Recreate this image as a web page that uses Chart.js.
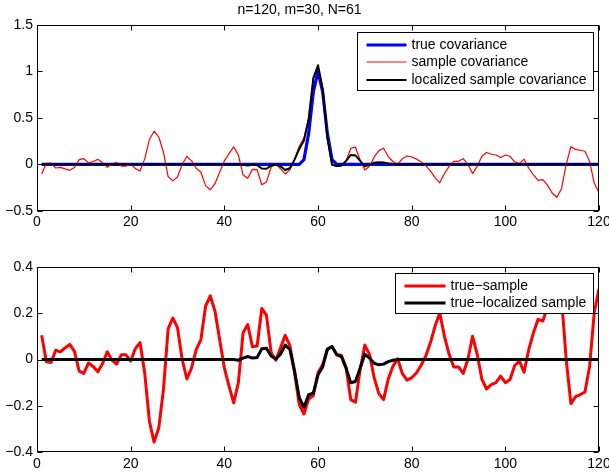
<!DOCTYPE html>
<html>
<head>
<meta charset="utf-8">
<script src="https://cdn.jsdelivr.net/npm/chart.js@4/dist/chart.umd.min.js"></script>
<style>
  html, body { margin: 0; padding: 0; background: #fff; }
  #wrap { position: relative; width: 609px; height: 476px; overflow: hidden; }
  canvas { position: absolute; left: 0; }
</style>
</head>
<body>
<div id="wrap">
  <canvas id="chartTop" width="609" height="240" style="top:0"></canvas>
  <canvas id="chartBot" width="609" height="236" style="top:240px"></canvas>
</div>
<script>
/* n=120 sample index */
var TITLE = 'n=120, m=30, N=61';
var X_TICKS = [0, 20, 40, 60, 80, 100, 120];

var TOP_LABELS = ['true covariance', 'sample covariance', 'localized sample covariance'];
var BOT_LABELS = ['true\u2212sample', 'true\u2212localized sample'];

var TRUE_COV = [
  0, 0, 0, 0, 0, 0, 0, 0, 0, 0,
  0, 0, 0, 0, 0, 0, 0, 0, 0, 0,
  0, 0, 0, 0, 0, 0, 0, 0, 0, 0,
  0, 0, 0, 0, 0, 0, 0, 0, 0, 0,
  0, 0, 0, 0, 0, 0, 0, 0, 0, 0,
  0, 0, 0, 0, 0, 0, 0.05, 0.33, 0.78, 1.0,
  0.78, 0.33, 0.05, 0, 0, 0, 0, 0, 0, 0,
  0, 0, 0, 0, 0, 0, 0, 0, 0, 0,
  0, 0, 0, 0, 0, 0, 0, 0, 0, 0,
  0, 0, 0, 0, 0, 0, 0, 0, 0, 0,
  0, 0, 0, 0, 0, 0, 0, 0, 0, 0,
  0, 0, 0, 0, 0, 0, 0, 0, 0, 0
];

var SAMPLE_COV = [
  -0.105, 0.01, 0.013, -0.04, -0.033, -0.05, -0.065, -0.035, 0.05, 0.06,
  0.015, 0.03, 0.053, 0.017, -0.033, 0.003, 0.02, -0.02, -0.02, 0.007,
  -0.047, -0.073, 0.058, 0.266, 0.356, 0.295, 0.13, -0.132, -0.179, -0.137,
  0, 0.084, 0.036, -0.043, -0.086, -0.23, -0.274, -0.209, -0.086, 0.036,
  0.115, 0.187, 0.1, -0.115, -0.151, -0.055, -0.058, -0.22, -0.19, -0.029,
  0.003, -0.05, -0.104, -0.06, 0.058, 0.194, 0.285, 0.5, 0.935, 1.058,
  0.802, 0.287, -0.005, -0.022, -0.017, 0.036, 0.173, 0.184, 0.043, -0.062,
  -0.022, 0.079, 0.147, 0.173, 0.084, 0.029, -0.003, 0.06, 0.089, 0.079,
  0.058, 0.026, -0.014, -0.072, -0.144, -0.2, -0.1, -0.022, 0.032, 0.032,
  0.06, 0, -0.1, -0.022, 0.086, 0.127, 0.108, 0.1, 0.072, 0.1,
  0.086, 0.026, 0.007, 0.055, -0.043, -0.115, -0.173, -0.166, -0.225, -0.31,
  -0.355, -0.263, 0, 0.19, 0.16, 0.151, 0.14, 0.029, -0.205, -0.305
];

var LOCAL_COV = [
  0, 0, 0, 0, 0, 0, 0, 0, 0, 0,
  0, 0, 0, 0, 0, 0, 0, 0, 0, 0,
  0, 0, 0, 0, 0, 0, 0, 0, 0, 0,
  0, 0, 0, 0, 0, 0, 0, 0, 0, 0,
  0, 0, 0.003, -0.006, -0.013, -0.006, -0.009, -0.046, -0.048, -0.015,
  -0.002, -0.023, -0.062, -0.043, 0.05, 0.165, 0.256, 0.482, 0.925, 1.066,
  0.812, 0.285, -0.006, -0.02, -0.013, 0.037, 0.1, 0.095, 0.037, -0.023,
  -0.006, 0.016, 0.023, 0.02, 0.009, 0.003, 0, 0, 0, 0,
  0, 0, 0, 0, 0, 0, 0, 0, 0, 0,
  0, 0, 0, 0, 0, 0, 0, 0, 0, 0,
  0, 0, 0, 0, 0, 0, 0, 0, 0, 0,
  0, 0, 0, 0, 0, 0, 0, 0, 0, 0
];

var DIFF_SAMPLE = [
  0.105, -0.01, -0.013, 0.04, 0.033, 0.05, 0.065, 0.035, -0.05, -0.06,
  -0.015, -0.03, -0.053, -0.017, 0.033, -0.003, -0.02, 0.02, 0.02, -0.007,
  0.047, 0.073, -0.058, -0.266, -0.356, -0.295, -0.13, 0.132, 0.179, 0.137,
  0, -0.084, -0.036, 0.043, 0.086, 0.23, 0.274, 0.209, 0.086, -0.036,
  -0.115, -0.187, -0.1, 0.115, 0.151, 0.055, 0.058, 0.22, 0.19, 0.029,
  -0.003, 0.05, 0.104, 0.06, -0.058, -0.194, -0.235, -0.17, -0.155, -0.058,
  -0.022, 0.043, 0.055, 0.022, 0.017, -0.036, -0.173, -0.184, -0.043, 0.062,
  0.022, -0.079, -0.147, -0.173, -0.084, -0.029, 0.003, -0.06, -0.089, -0.079,
  -0.058, -0.026, 0.014, 0.072, 0.144, 0.2, 0.1, 0.022, -0.032, -0.032,
  -0.06, 0, 0.1, 0.022, -0.086, -0.127, -0.108, -0.1, -0.072, -0.1,
  -0.086, -0.026, -0.007, -0.055, 0.043, 0.115, 0.173, 0.166, 0.225, 0.31,
  0.355, 0.263, 0, -0.19, -0.16, -0.151, -0.14, -0.029, 0.205, 0.305
];

var DIFF_LOCAL = [
  0, 0, 0, 0, 0, 0, 0, 0, 0, 0,
  0, 0, 0, 0, 0, 0, 0, 0, 0, 0,
  0, 0, 0, 0, 0, 0, 0, 0, 0, 0,
  0, 0, 0, 0, 0, 0, 0, 0, 0, 0,
  0, 0, -0.003, 0.006, 0.013, 0.006, 0.009, 0.046, 0.048, 0.015,
  0.002, 0.023, 0.062, 0.043, -0.05, -0.165, -0.206, -0.152, -0.145, -0.066,
  -0.032, 0.045, 0.056, 0.02, 0.013, -0.037, -0.1, -0.095, -0.037, 0.023,
  0.006, -0.016, -0.023, -0.02, -0.009, -0.003, 0, 0, 0, 0,
  0, 0, 0, 0, 0, 0, 0, 0, 0, 0,
  0, 0, 0, 0, 0, 0, 0, 0, 0, 0,
  0, 0, 0, 0, 0, 0, 0, 0, 0, 0,
  0, 0, 0, 0, 0, 0, 0, 0, 0, 0
];

var FONT_FAMILY = '"Liberation Sans", Arial, Helvetica, sans-serif';

function pts(vals) {
  return vals.map(function (v, i) { return { x: i + 1, y: v }; });
}

function fmt(v) {
  var s = String(Math.round(v * 10) / 10);
  return s.replace('-', '\u2212');
}

/* MATLAB-style box with inward tick marks on all four sides, then the legend on top */
var framePlugin = {
  id: 'frame',
  afterDatasetsDraw: function (chart) {
    var a = chart.chartArea, ctx = chart.ctx;
    var L = Math.round(a.left) + 0.5, R = Math.round(a.right) - 0.5;
    var T = Math.round(a.top) + 0.5, B = Math.round(a.bottom) - 0.5;
    var xs = chart.scales.x, ys = chart.scales.y, tl = 5;
    ctx.save();
    ctx.strokeStyle = '#000'; ctx.lineWidth = 1;
    ctx.strokeRect(L, T, R - L, B - T);
    ctx.beginPath();
    xs.ticks.forEach(function (t) {
      var px = Math.round(xs.getPixelForValue(t.value)) + 0.5;
      ctx.moveTo(px, B); ctx.lineTo(px, B - tl);
      ctx.moveTo(px, T); ctx.lineTo(px, T + tl);
    });
    ys.ticks.forEach(function (t) {
      var py = Math.round(ys.getPixelForValue(t.value)) + 0.5;
      ctx.moveTo(L, py); ctx.lineTo(L + tl, py);
      ctx.moveTo(R, py); ctx.lineTo(R - tl, py);
    });
    ctx.stroke();
    ctx.restore();
    drawLegend(chart, chart.options.plugins.boxLegend);
  }
};

function drawLegend(chart, opts) {
  var a = chart.chartArea, ctx = chart.ctx;
  var names = opts.names;
  ctx.save();
  ctx.font = '14px ' + FONT_FAMILY;
  var tw = 0;
  names.forEach(function (n) { tw = Math.max(tw, ctx.measureText(n).width); });
  var w = Math.round(9 + opts.lineLen + 5 + tw + 7);
  var h = Math.round(12 + (names.length - 1) * 17.5 + 10.5);
  var x = Math.round(a.right - 6 - w) + 0.5, y = Math.round(a.top + opts.dy) + 0.5;
  ctx.globalCompositeOperation = 'source-over';
  ctx.fillStyle = '#ffffff';
  ctx.fillRect(x - 0.5, y - 0.5, w + 1, h + 1);
  ctx.strokeStyle = '#000'; ctx.lineWidth = 1;
  ctx.strokeRect(x, y, w, h);
  names.forEach(function (n, i) {
    var ds = chart.data.datasets[opts.map[i]];
    var ry = Math.round(y + 12 + i * 17.5);
    ctx.strokeStyle = ds.borderColor; ctx.lineWidth = ds.borderWidth;
    ctx.beginPath();
    ctx.moveTo(x + 9, ry); ctx.lineTo(x + 9 + opts.lineLen, ry);
    ctx.stroke();
    ctx.fillStyle = '#000'; ctx.textBaseline = 'middle'; ctx.textAlign = 'left';
    ctx.fillText(n, x + 9 + opts.lineLen + 5, ry);
  });
  ctx.restore();
}

function makeAxes(yMin, yMax, yStep, xHeight) {
  return {
    x: {
      type: 'linear', min: 0, max: 120,
      afterBuildTicks: function (s) { s.ticks = X_TICKS.map(function (v) { return { value: v }; }); },
      grid: { display: false, drawTicks: false }, border: { display: false },
      ticks: { color: '#000', font: { family: FONT_FAMILY, size: 14 }, padding: 3, maxRotation: 0, autoSkip: false },
      afterFit: function (s) { s.height = xHeight; s.paddingLeft = 0; s.paddingRight = 0; }
    },
    y: {
      type: 'linear', min: yMin, max: yMax,
      ticks: { stepSize: yStep, color: '#000', font: { family: FONT_FAMILY, size: 14 }, padding: 4,
               callback: function (v) { return fmt(v); } },
      grid: { display: false, drawTicks: false }, border: { display: false },
      afterFit: function (s) { s.width = 37; s.paddingTop = 0; s.paddingBottom = 0; }
    }
  };
}

new Chart(document.getElementById('chartTop'), {
  type: 'line',
  data: {
    datasets: [
      { label: TOP_LABELS[0], data: pts(TRUE_COV), borderColor: '#0000ff', borderWidth: 3.2, order: 3 },
      { label: TOP_LABELS[1], data: pts(SAMPLE_COV), borderColor: '#ff0000', borderWidth: 1.2, order: 2 },
      { label: TOP_LABELS[2], data: pts(LOCAL_COV), borderColor: '#000000', borderWidth: 2, order: 1 }
    ]
  },
  options: {
    responsive: false, animation: false, events: [],
    elements: { point: { radius: 0 }, line: { tension: 0, fill: false, borderJoinStyle: 'round' } },
    layout: { autoPadding: false, padding: { left: 0, right: 10, top: 0, bottom: 0 } },
    plugins: {
      legend: { display: false }, tooltip: { enabled: false },
      title: { display: true, text: TITLE, color: '#000', font: { family: FONT_FAMILY, size: 14, weight: 'normal' },
               padding: { top: 1.6, bottom: 6.6 } },
      boxLegend: { names: TOP_LABELS, map: [0, 1, 2], lineLen: 40, dy: 7 }
    },
    scales: makeAxes(-0.5, 1.5, 0.5, 29.3)
  },
  plugins: [framePlugin]
});

new Chart(document.getElementById('chartBot'), {
  type: 'line',
  data: {
    datasets: [
      { label: BOT_LABELS[0], data: pts(DIFF_SAMPLE), borderColor: '#ff0000', borderWidth: 3, order: 2 },
      { label: BOT_LABELS[1], data: pts(DIFF_LOCAL), borderColor: '#000000', borderWidth: 3, order: 1 }
    ]
  },
  options: {
    responsive: false, animation: false, events: [],
    elements: { point: { radius: 0 }, line: { tension: 0, fill: false, borderJoinStyle: 'round' } },
    layout: { autoPadding: false, padding: { left: 0, right: 10, top: 26.7, bottom: 0 } },
    plugins: {
      legend: { display: false }, tooltip: { enabled: false }, title: { display: false },
      boxLegend: { names: BOT_LABELS, map: [0, 1], lineLen: 41, dy: 6.3 }
    },
    scales: makeAxes(-0.4, 0.4, 0.2, 23.7)
  },
  plugins: [framePlugin]
});
</script>
</body>
</html>
